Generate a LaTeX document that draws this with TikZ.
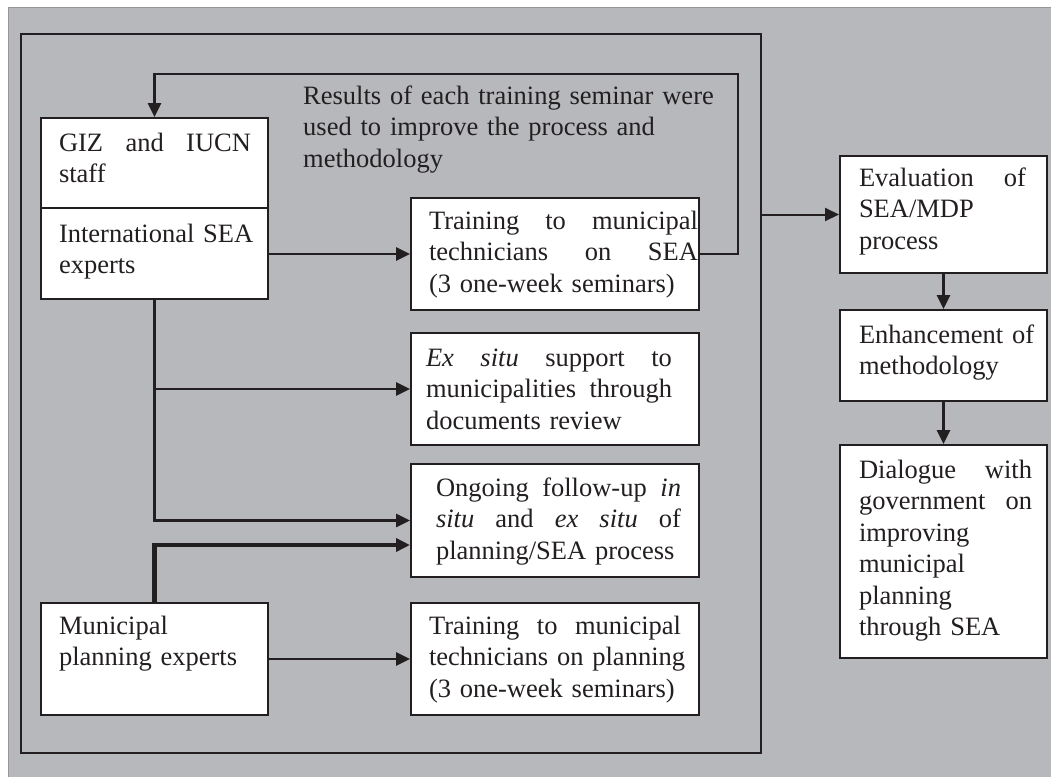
\documentclass[tikz,border=0pt]{standalone}
\usepackage{fontspec}
\setmainfont{Liberation Serif}
\usetikzlibrary{arrows.meta,calc}
\definecolor{bg}{RGB}{183,184,188}
\definecolor{bgline}{RGB}{150,150,152}
\definecolor{ink}{RGB}{35,31,32}
\newcommand\jl[1]{\leavevmode\hbox to \linewidth{#1}}
\newcommand\tb[3]{\hspace*{#1pt}\parbox[t]{#2pt}{\raggedright #3}}
\begin{document}
\begin{tikzpicture}[x=1pt,y=-1pt,
  every node/.append style={font=\fontsize{26.5pt}{31.5pt}\selectfont, text=ink},
  box/.style={draw=ink, line width=2pt, fill=white, anchor=north west, inner sep=0pt, align=left},
  arr/.style={draw=ink, line width=2.7pt, -{Triangle[length=14pt,width=13pt]}},
  thinarr/.style={draw=ink, line width=2pt, -{Triangle[length=14pt,width=13pt]}},
  thickarr/.style={draw=ink, line width=4.5pt, -{Triangle[length=14pt,width=13pt]}}]
\useasboundingbox (0,0) rectangle (1051,776);
\fill[bg] (8,7.5) rectangle (1052,777);
\draw[bgline, line width=1pt] (8,777) -- (8,7.5) -- (1052,7.5);
% inner frame
\node[draw=ink, line width=2pt, minimum width=740pt, minimum height=719pt, anchor=north west, inner sep=0pt] (frame) at (20,33) {};
% left column
\node[box, text width=227pt, text height=33pt, text depth=57pt] (giz) at (40,117)
  {\tb{18}{192}{\jl{GIZ\hfill and\hfill IUCN}\\staff}};
\node[box, text width=227pt, text height=34pt, text depth=57pt] (intl) at (40,207)
  {\tb{18}{205}{International SEA\\experts}};
\node[box, text width=227pt, text height=31pt, text depth=81pt] (mp) at (40,602)
  {\tb{18}{192}{Municipal\\planning experts}};
% middle column
\node[box, text width=288pt, text height=31pt, text depth=81pt] (t1) at (410,197)
  {\tb{18}{269}{\jl{Training\hfill to\hfill municipal}\\\jl{technicians\hfill on\hfill SEA}\\(3 one-week seminars)}};
\node[box, text width=288pt, text height=33pt, text depth=79pt] (t2) at (410,332)
  {\tb{15}{246}{\jl{\textit{Ex}\hfill\textit{situ}\hfill support\hfill to}\\\jl{municipalities\hfill through}\\documents review}};
\node[box, text width=288pt, text height=32pt, text depth=81pt] (t3) at (410,463)
  {\tb{25}{245}{\jl{Ongoing\hfill follow-up\hfill\textit{in}}\\\jl{\textit{situ}\hfill and\hfill\textit{ex}\hfill\textit{situ}\hfill of}\\planning/SEA process}};
\node[box, text width=288pt, text height=31pt, text depth=81pt] (t4) at (410,602)
  {\tb{18}{252}{\jl{Training\hfill to\hfill municipal}\\\jl{technicians on planning}\\(3 one-week seminars)}};
% right column
\node[box, text width=207pt, text height=30pt, text depth=87pt] (e1) at (839,155)
  {\tb{19}{167}{\jl{Evaluation\hfill of}\\SEA/MDP\\process}};
\node[box, text width=207pt, text height=33pt, text depth=58pt] (e2) at (839,309)
  {\tb{19}{180}{Enhancement of\\methodology}};
\node[box, text width=207pt, text height=33pt, text depth=180pt] (e3) at (839,444)
  {\tb{19}{173}{\jl{Dialogue\hfill with}\\\jl{government\hfill on}\\improving\\municipal\\planning\\through SEA}};
% note
\node[anchor=base west, text width=420pt, align=left, inner sep=0pt] (note) at (303,104)
  {Results of each training seminar were\\used to improve the process and\\methodology};
% connectors
\coordinate (fbR) at (738,74);
\draw[arr] (t1.east) -| (fbR) -| (giz.north);
\draw[arr] (t1.west -| intl.east) -- (t1.west);
\draw[arr] (intl.south) |- (t2.west);
\draw[arr] (intl.south) |- (t3.west);
\coordinate (t3low) at ($(t3.west)+(0,24.5)$);
\draw[thickarr] (mp.north) |- (t3low);
\draw[arr] (mp.east) -- (t4.west);
\draw[thinarr] (frame.east |- e1.west) -- (e1.west);
\draw[arr] (e1.south) -- (e2.north);
\draw[arr] (e2.south) -- (e3.north);
\end{tikzpicture}
\end{document}
